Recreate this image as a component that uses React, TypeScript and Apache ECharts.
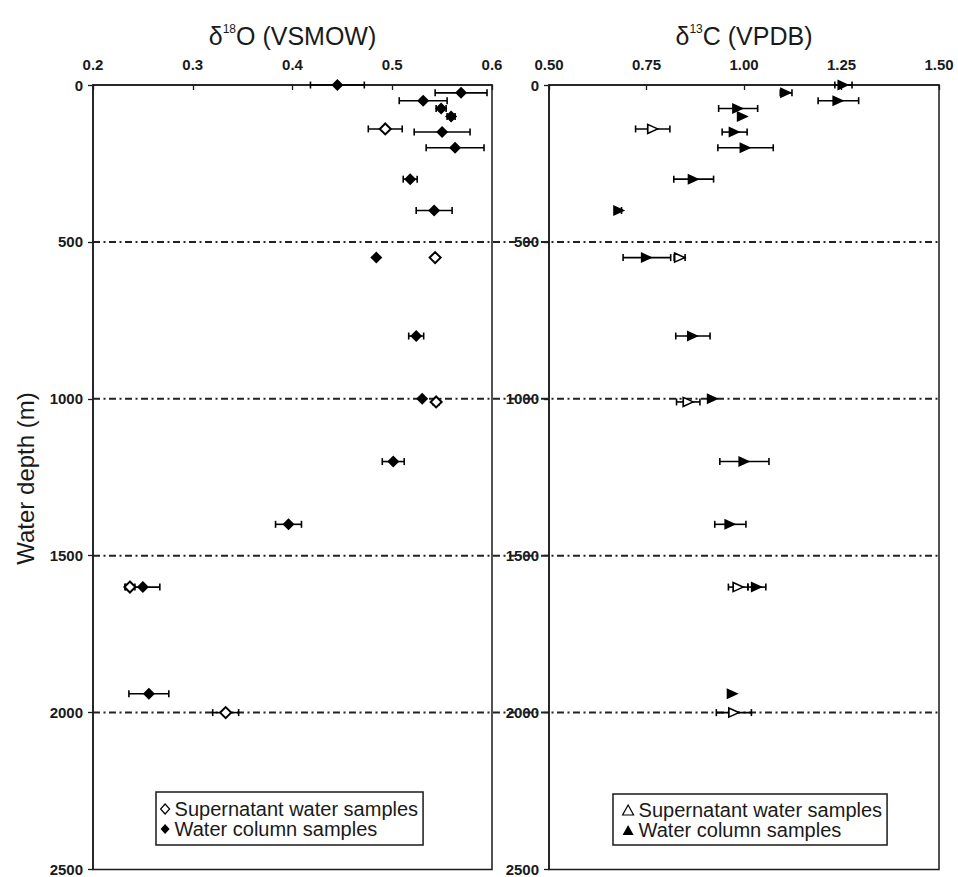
import React, { useEffect, useRef } from "react";
import * as echarts from "echarts";

// ---------- data ----------
// δ18O panel (VSMOW) — water column samples
const o18WaterDepth = [0, 25, 50, 75, 100, 150, 200, 300, 400, 550, 800, 1000, 1200, 1400, 1600, 1940];
const o18WaterValue = [0.445, 0.569, 0.531, 0.549, 0.559, 0.550, 0.563, 0.518, 0.542, 0.484, 0.524, 0.530, 0.501, 0.396, 0.250, 0.256];
const o18WaterErr = [0.027, 0.026, 0.024, 0.005, 0.004, 0.028, 0.029, 0.007, 0.018, 0, 0.0075, 0, 0.011, 0.013, 0.017, 0.020];
// δ18O panel — supernatant water samples
const o18SuperDepth = [140, 550, 1010, 1600, 2000];
const o18SuperValue = [0.493, 0.543, 0.544, 0.237, 0.333];
const o18SuperErr = [0.017, 0, 0.003, 0.005, 0.013];

// δ13C panel (VPDB) — water column samples
const c13WaterDepth = [0, 25, 50, 75, 100, 150, 200, 300, 400, 550, 800, 1000, 1200, 1400, 1600, 1940];
const c13WaterValue = [1.255, 1.108, 1.242, 0.985, 0.997, 0.976, 1.004, 0.871, 0.680, 0.751, 0.869, 0.920, 1.001, 0.965, 1.033, 0.971];
const c13WaterErr = [0.022, 0.015, 0.052, 0.050, 0, 0.032, 0.071, 0.051, 0.006, 0.061, 0.044, 0, 0.063, 0.040, 0.023, 0];
// δ13C panel — supernatant water samples
const c13SuperDepth = [140, 550, 1010, 1600, 2000];
const c13SuperValue = [0.766, 0.835, 0.857, 0.985, 0.974];
const c13SuperErr = [0.044, 0.014, 0.030, 0.025, 0.045];

const dashDepths = [500, 1000, 1500, 2000];
const depthTicks = { min: 0, max: 2500, interval: 500 };
const o18Axis = { min: 0.2, max: 0.6, interval: 0.1 };
const c13Axis = { min: 0.5, max: 1.5, interval: 0.25 };

const SUPER_NAME = "Supernatant water samples";
const WATER_NAME = "Water column samples";

const FONT = '"Liberation Sans", Arial, Helvetica, sans-serif';
const INK = "#1a1a1a";

function pts(values: number[], depths: number[]) {
  return values.map((v, i) => [v, depths[i]]);
}
function errs(values: number[], depths: number[], e: number[]) {
  const out: number[][] = [];
  values.forEach((v, i) => {
    if (e[i] > 0) out.push([v - e[i], depths[i], v + e[i]]);
  });
  return out;
}

function errorRender(params: any, api: any) {
  const lo = api.coord([api.value(0), api.value(1)]);
  const hi = api.coord([api.value(2), api.value(1)]);
  const h = 3.5;
  const st = { stroke: "#000", lineWidth: 1.6 };
  return {
    type: "group",
    children: [
      { type: "line", shape: { x1: lo[0], y1: lo[1], x2: hi[0], y2: hi[1] }, style: st },
      { type: "line", shape: { x1: lo[0], y1: lo[1] - h, x2: lo[0], y2: lo[1] + h }, style: st },
      { type: "line", shape: { x1: hi[0], y1: hi[1] - h, x2: hi[0], y2: hi[1] + h }, style: st },
    ],
  };
}

const GRID0 = { left: 93, top: 85, width: 399, height: 787 };
const GRID1 = { left: 549, top: 85, width: 390, height: 787 };

function xAxisCfg(gridIndex: number, ax: any, digits: number) {
  return {
    gridIndex,
    type: "value",
    position: "top",
    min: ax.min,
    max: ax.max,
    interval: ax.interval,
    axisLine: { show: true, lineStyle: { color: INK, width: 1.5 } },
    axisTick: { show: true, inside: true, length: 5, lineStyle: { color: INK, width: 1.3 } },
    axisLabel: {
      formatter: (v: number) => v.toFixed(digits),
      fontSize: 15,
      fontWeight: "bold",
      color: INK,
      fontFamily: FONT,
      margin: 13,
      showMinLabel: true,
      showMaxLabel: true,
    },
    splitLine: { show: false },
  };
}
function yAxisCfg(gridIndex: number) {
  return {
    gridIndex,
    type: "value",
    inverse: true,
    min: depthTicks.min,
    max: depthTicks.max,
    interval: depthTicks.interval,
    axisLine: { show: true, lineStyle: { color: INK, width: 1.5 } },
    axisTick: { show: true, inside: false, length: 5, lineStyle: { color: INK, width: 1.3 } },
    axisLabel: {
      formatter: (v: number) => String(Math.round(v)),
      fontSize: 15,
      fontWeight: "bold",
      color: INK,
      fontFamily: FONT,
      margin: 10,
      showMinLabel: true,
      showMaxLabel: true,
    },
    splitLine: { show: false },
  };
}

export default function App() {
  const ref = useRef<HTMLDivElement>(null);
  useEffect(() => {
    document.body.style.margin = "0";
    if (!ref.current) return;
    const chart = echarts.init(ref.current, null, { renderer: "svg" });
    const option: any = {
      animation: false,
      backgroundColor: "#fff",
      grid: [
        { ...GRID0, show: true, borderColor: INK, borderWidth: 1.5, backgroundColor: "transparent" },
        { ...GRID1, show: true, borderColor: INK, borderWidth: 1.5, backgroundColor: "transparent" },
      ],
      xAxis: [xAxisCfg(0, o18Axis, 1), xAxisCfg(1, c13Axis, 2)],
      yAxis: [yAxisCfg(0), yAxisCfg(1)],
      legend: [
        {
          orient: "vertical",
          left: 156,
          top: 792,
          padding: [7, 5, 6, 4],
          itemGap: 0,
          itemWidth: 9,
          itemHeight: 10,
          selectedMode: false,
          borderColor: INK,
          borderWidth: 1.5,
          backgroundColor: "#fff",
          symbolRotate: 0,
          textStyle: { fontSize: 20, fontFamily: FONT, color: INK, lineHeight: 20 },
          data: [
            { name: SUPER_NAME, icon: "diamond", itemStyle: { color: "#fff", borderColor: "#000", borderWidth: 1.2 } },
            { name: WATER_NAME, icon: "diamond", itemStyle: { color: "#000", borderWidth: 0 } },
          ],
        },
        {
          orient: "vertical",
          left: 613,
          top: 794,
          padding: [6, 5, 5, 9],
          itemGap: 0,
          itemWidth: 11,
          itemHeight: 10,
          selectedMode: false,
          borderColor: INK,
          borderWidth: 1.5,
          backgroundColor: "#fff",
          symbolRotate: 0,
          textStyle: { fontSize: 20, fontFamily: FONT, color: INK, lineHeight: 20 },
          data: [
            { name: SUPER_NAME, icon: "triangle", symbolRotate: 0, itemStyle: { color: "#fff", borderColor: "#000", borderWidth: 1.2 } },
            { name: WATER_NAME, icon: "triangle", symbolRotate: 0, itemStyle: { color: "#000", borderWidth: 0 } },
          ],
        },
      ],
      series: [
        // δ18O error bars
        {
          type: "custom",
          name: "o18 water err",
          xAxisIndex: 0,
          yAxisIndex: 0,
          renderItem: errorRender,
          encode: { x: [0, 2], y: 1 },
          data: errs(o18WaterValue, o18WaterDepth, o18WaterErr),
          z: 2,
          silent: true,
        },
        {
          type: "custom",
          name: "o18 super err",
          xAxisIndex: 0,
          yAxisIndex: 0,
          renderItem: errorRender,
          encode: { x: [0, 2], y: 1 },
          data: errs(o18SuperValue, o18SuperDepth, o18SuperErr),
          z: 2,
          silent: true,
        },
        {
          type: "scatter",
          name: SUPER_NAME,
          xAxisIndex: 0,
          yAxisIndex: 0,
          symbol: "diamond",
          symbolSize: 11,
          itemStyle: { color: "#fff", borderColor: "#000", borderWidth: 2, opacity: 1 },
          data: pts(o18SuperValue, o18SuperDepth),
          z: 3,
        },
        {
          type: "scatter",
          name: WATER_NAME,
          xAxisIndex: 0,
          yAxisIndex: 0,
          symbol: "diamond",
          symbolSize: 12,
          itemStyle: { color: "#000", opacity: 1 },
          data: pts(o18WaterValue, o18WaterDepth),
          z: 3,
        },
        // δ13C error bars
        {
          type: "custom",
          name: "c13 water err",
          xAxisIndex: 1,
          yAxisIndex: 1,
          renderItem: errorRender,
          encode: { x: [0, 2], y: 1 },
          data: errs(c13WaterValue, c13WaterDepth, c13WaterErr),
          z: 2,
          silent: true,
        },
        {
          type: "custom",
          name: "c13 super err",
          xAxisIndex: 1,
          yAxisIndex: 1,
          renderItem: errorRender,
          encode: { x: [0, 2], y: 1 },
          data: errs(c13SuperValue, c13SuperDepth, c13SuperErr),
          z: 2,
          silent: true,
        },
        {
          type: "scatter",
          name: SUPER_NAME,
          xAxisIndex: 1,
          yAxisIndex: 1,
          symbol: "triangle",
          symbolRotate: -90,
          symbolSize: [9, 10],
          itemStyle: { color: "#fff", borderColor: "#000", borderWidth: 1.6, opacity: 1 },
          data: pts(c13SuperValue, c13SuperDepth),
          z: 3,
        },
        {
          type: "scatter",
          name: WATER_NAME,
          xAxisIndex: 1,
          yAxisIndex: 1,
          symbol: "triangle",
          symbolRotate: -90,
          symbolSize: [11, 12],
          itemStyle: { color: "#000", opacity: 1 },
          data: pts(c13WaterValue, c13WaterDepth),
          z: 3,
        },
      ],
    };
    chart.setOption(option);

    const dashLines = dashDepths.map((d) => {
      const a = chart.convertToPixel({ gridIndex: 0 } as any, [o18Axis.min, d]) as number[];
      const b = chart.convertToPixel({ gridIndex: 1 } as any, [c13Axis.max, d]) as number[];
      return {
        type: "line",
        z: 1,
        silent: true,
        shape: { x1: a[0], y1: a[1], x2: b[0], y2: b[1] },
        style: { stroke: "#222", lineWidth: 2, lineDash: [7, 3.5, 2, 3.5] },
      };
    });

    const titleRich = (sup: string, rest: string) => ({
      text: `{d|δ}{s|${sup}}{d|${rest}}`,
      rich: {
        d: { fontSize: 25, fontFamily: FONT, fill: INK, lineHeight: 26 },
        s: { fontSize: 12, fontFamily: FONT, fill: INK, lineHeight: 26, verticalAlign: "top" },
      },
      align: "center",
      verticalAlign: "middle",
    });

    chart.setOption({
      graphic: [
        {
          type: "text",
          x: GRID0.left + GRID0.width / 2,
          y: 36,
          z: 5,
          style: titleRich("18", "O (VSMOW)"),
        },
        {
          type: "text",
          x: GRID1.left + GRID1.width / 2,
          y: 36,
          z: 5,
          style: titleRich("13", "C (VPDB)"),
        },
        {
          type: "text",
          x: 25,
          y: GRID0.top + GRID0.height / 2,
          rotation: Math.PI / 2,
          z: 5,
          style: {
            text: "Water depth (m)",
            fontSize: 24,
            fontFamily: FONT,
            fill: INK,
            align: "center",
            verticalAlign: "middle",
          },
        },
        ...dashLines,
      ],
    });

    return () => chart.dispose();
  }, []);
  return <div ref={ref} style={{ width: 958, height: 877 }} />;
}
